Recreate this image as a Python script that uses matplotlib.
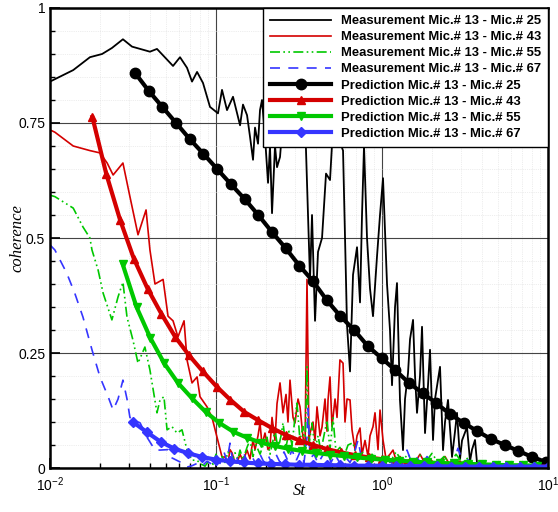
import matplotlib
matplotlib.use("Agg")
import matplotlib.pyplot as plt
from matplotlib.ticker import MultipleLocator, LogLocator, NullFormatter

plt.rcParams['font.family'] = ['Liberation Sans', 'DejaVu Sans']
plt.rcParams['mathtext.fontset'] = 'custom'
plt.rcParams['mathtext.rm'] = 'Liberation Sans'

# Measurement Mic.# 13 - Mic.# 25
st_m25 = [0.0100, 0.0138, 0.0174, 0.0206, 0.0236, 0.0275, 0.0312, 0.0400, 0.0441, 0.0551,
          0.0607, 0.0669, 0.0717, 0.0769, 0.0835, 0.0920, 0.1028, 0.1087, 0.1165, 0.1266,
          0.1396, 0.1454, 0.1538, 0.1603, 0.1671, 0.1718, 0.1791, 0.1841, 0.1893, 0.1973,
          0.2058, 0.2115, 0.2175, 0.2267, 0.2331, 0.2430, 0.2533, 0.2641, 0.2791, 0.2992,
          0.3206, 0.3437, 0.3684, 0.3788, 0.3949, 0.4117, 0.4352, 0.4600, 0.4862, 0.5139,
          0.5431, 0.5824, 0.6156, 0.6417, 0.6690, 0.7071, 0.7371, 0.7578, 0.7791, 0.8122,
          0.8467, 0.8826, 0.9330, 0.9727, 1.014, 1.072, 1.117, 1.149, 1.198, 1.231,
          1.283, 1.338, 1.376, 1.434, 1.475, 1.538, 1.581, 1.625, 1.694, 1.742,
          1.816, 1.893, 1.946, 2.029, 2.086, 2.236, 2.331, 2.396, 2.498, 2.641,
          2.754, 2.830, 2.951, 3.034, 3.251, 3.390, 3.485, 3.633, 3.735]
c_m25 = [0.840, 0.865, 0.893, 0.900, 0.913, 0.932, 0.916, 0.905, 0.911, 0.874,
         0.893, 0.870, 0.840, 0.861, 0.837, 0.785, 0.771, 0.822, 0.778, 0.807,
         0.745, 0.790, 0.767, 0.720, 0.670, 0.740, 0.705, 0.778, 0.800, 0.720,
         0.620, 0.700, 0.554, 0.700, 0.654, 0.676, 0.760, 0.720, 0.780, 0.740,
         0.790, 0.760, 0.410, 0.550, 0.320, 0.470, 0.500, 0.640, 0.626, 0.780,
         0.720, 0.690, 0.310, 0.210, 0.420, 0.480, 0.360, 0.550, 0.700, 0.500,
         0.390, 0.330, 0.460, 0.550, 0.630, 0.400, 0.300, 0.180, 0.350, 0.402,
         0.148, 0.039, 0.150, 0.206, 0.280, 0.322, 0.200, 0.120, 0.200, 0.307,
         0.076, 0.180, 0.257, 0.061, 0.150, 0.220, 0.039, 0.100, 0.148, 0.024,
         0.080, 0.120, 0.020, 0.060, 0.089, 0.015, 0.040, 0.061, 0.011]

# Measurement Mic.# 13 - Mic.# 43
st_m43 = [0.0100, 0.0107, 0.0138, 0.0174, 0.0200, 0.0221, 0.0240, 0.0275, 0.0303, 0.0339,
          0.0379, 0.0400, 0.0429, 0.0480, 0.0514, 0.0551, 0.0590, 0.0642, 0.0669, 0.0717,
          0.0769, 0.0801, 0.0883, 0.0946, 0.1014, 0.1087, 0.1133, 0.1181, 0.1214, 0.1249,
          0.1302, 0.1338, 0.1395, 0.1454, 0.1538, 0.1603, 0.1671, 0.1718, 0.1791, 0.1841,
          0.1893, 0.1973, 0.2058, 0.2115, 0.2175, 0.2267, 0.2331, 0.2430, 0.2533, 0.2641,
          0.2714, 0.2791, 0.2910, 0.2992, 0.3119, 0.3206, 0.3343, 0.3437, 0.3533, 0.3633,
          0.3684, 0.3840, 0.3949, 0.4059, 0.4232, 0.4352, 0.4537, 0.4664, 0.4730, 0.4862,
          0.4998, 0.5212, 0.5358, 0.5580, 0.5824, 0.5985, 0.6156, 0.6417, 0.6597, 0.6880,
          0.7071, 0.7371, 0.7578, 0.7900, 0.8235, 0.8467, 0.8826, 0.9074, 0.9461, 0.9727,
          1.014, 1.057, 1.117, 1.165, 1.231, 1.283, 1.376, 1.475, 1.581, 1.694,
          1.816, 1.946, 2.086, 2.236, 2.396, 2.568, 2.754, 2.951, 3.162, 3.390]
c_m43 = [0.735, 0.730, 0.700, 0.690, 0.685, 0.663, 0.637, 0.663, 0.590, 0.507,
         0.561, 0.474, 0.400, 0.410, 0.330, 0.320, 0.285, 0.320, 0.235, 0.185,
         0.198, 0.155, 0.133, 0.110, 0.067, 0.024, 0.024, 0.010, 0.040, 0.033,
         0.012, 0.011, 0.030, 0.015, 0.039, 0.020, 0.061, 0.040, 0.070, 0.098,
         0.050, 0.076, 0.040, 0.046, 0.110, 0.060, 0.140, 0.185, 0.120, 0.160,
         0.100, 0.191, 0.110, 0.098, 0.150, 0.133, 0.067, 0.040, 0.410, 0.060,
         0.076, 0.100, 0.060, 0.133, 0.070, 0.089, 0.150, 0.080, 0.148, 0.198,
         0.090, 0.150, 0.110, 0.235, 0.228, 0.100, 0.150, 0.148, 0.083, 0.040,
         0.070, 0.087, 0.030, 0.060, 0.025, 0.070, 0.090, 0.120, 0.040, 0.126,
         0.061, 0.020, 0.030, 0.039, 0.010, 0.025, 0.008, 0.020, 0.012, 0.030,
         0.010, 0.020, 0.008, 0.015, 0.025, 0.006, 0.012, 0.015, 0.005, 0.008]

# Measurement Mic.# 13 - Mic.# 55
st_m55 = [0.0100, 0.0107, 0.0138, 0.0158, 0.0174, 0.0179, 0.0195, 0.0209, 0.0236, 0.0257,
          0.0275, 0.0291, 0.0316, 0.0339, 0.0373, 0.0400, 0.0441, 0.0460, 0.0486, 0.0507,
          0.0543, 0.0582, 0.0624, 0.0669, 0.0717, 0.0769, 0.0801, 0.0859, 0.0920, 0.0959,
          0.1000, 0.1042, 0.1087, 0.1133, 0.1181, 0.1249, 0.1302, 0.1357, 0.1395, 0.1454,
          0.1538, 0.1603, 0.1671, 0.1742, 0.1841, 0.1946, 0.2029, 0.2115, 0.2205, 0.2267,
          0.2363, 0.2464, 0.2533, 0.2641, 0.2753, 0.2870, 0.2992, 0.3076, 0.3206, 0.3343,
          0.3437, 0.3533, 0.3633, 0.3788, 0.3949, 0.4117, 0.4291, 0.4412, 0.4664, 0.4862,
          0.5068, 0.5284, 0.5580, 0.5903, 0.6240, 0.6690, 0.7071, 0.7578, 0.8122, 0.8706,
          0.9461, 1.028, 1.117, 1.214, 1.320, 1.434, 1.559, 1.694, 1.841, 2.000,
          2.175, 2.363, 2.568, 2.791, 3.034, 3.296, 3.583, 3.894]
c_m55 = [0.593, 0.590, 0.565, 0.524, 0.500, 0.474, 0.430, 0.380, 0.322, 0.372,
         0.404, 0.328, 0.278, 0.228, 0.263, 0.213, 0.120, 0.148, 0.155, 0.083,
         0.090, 0.076, 0.083, 0.039, 0.017, 0.017, 0.010, 0.004, 0.020, 0.008,
         0.030, 0.010, 0.025, 0.012, 0.035, 0.015, 0.033, 0.020, 0.039, 0.018,
         0.045, 0.061, 0.025, 0.050, 0.030, 0.055, 0.067, 0.030, 0.060, 0.083,
         0.040, 0.070, 0.098, 0.045, 0.080, 0.050, 0.110, 0.141, 0.060, 0.090,
         0.040, 0.220, 0.050, 0.098, 0.040, 0.070, 0.035, 0.060, 0.104, 0.040,
         0.109, 0.035, 0.045, 0.025, 0.050, 0.055, 0.020, 0.035, 0.018, 0.030,
         0.015, 0.025, 0.012, 0.035, 0.015, 0.030, 0.012, 0.028, 0.014, 0.032,
         0.012, 0.025, 0.010, 0.030, 0.012, 0.022, 0.008, 0.004]

# Measurement Mic.# 13 - Mic.# 67
st_m67 = [0.0100, 0.0107, 0.0126, 0.0141, 0.0158, 0.0179, 0.0200, 0.0224, 0.0240, 0.0257,
          0.0275, 0.0291, 0.0303, 0.0349, 0.0384, 0.0429, 0.0460, 0.0514, 0.0543, 0.0624,
          0.0669, 0.0717, 0.0769, 0.0823, 0.0883, 0.0946, 0.1000, 0.1057, 0.1117, 0.1165,
          0.1214, 0.1266, 0.1320, 0.1395, 0.1475, 0.1559, 0.1648, 0.1742, 0.1841, 0.1946,
          0.2058, 0.2175, 0.2298, 0.2430, 0.2568, 0.2714, 0.2870, 0.3034, 0.3206, 0.3390,
          0.3533, 0.3583, 0.3684, 0.3894, 0.4117, 0.4352, 0.4664, 0.4929, 0.5212, 0.5580,
          0.5985, 0.6417, 0.6783, 0.7170, 0.7578, 0.8122, 0.8706, 0.9330, 1.000, 1.072,
          1.149, 1.231, 1.320, 1.414, 1.516, 1.625, 1.742, 1.867, 2.000, 2.145,
          2.300, 2.464, 2.641, 2.869, 3.080, 3.296, 3.533, 3.786, 4.003]
c_m67 = [0.485, 0.474, 0.424, 0.380, 0.328, 0.257, 0.198, 0.155, 0.126, 0.150,
         0.191, 0.150, 0.110, 0.098, 0.067, 0.039, 0.039, 0.040, 0.022, 0.011,
         0.002, 0.005, 0.010, 0.004, 0.015, 0.008, 0.020, 0.010, 0.035, 0.015,
         0.054, 0.012, 0.025, 0.008, 0.030, 0.012, 0.025, 0.008, 0.030, 0.012,
         0.028, 0.010, 0.030, 0.012, 0.035, 0.015, 0.040, 0.015, 0.035, 0.012,
         0.067, 0.130, 0.020, 0.030, 0.010, 0.025, 0.039, 0.012, 0.030, 0.010,
         0.025, 0.012, 0.030, 0.061, 0.015, 0.025, 0.010, 0.022, 0.008, 0.020,
         0.010, 0.025, 0.008, 0.039, 0.010, 0.022, 0.008, 0.025, 0.010, 0.018,
         0.008, 0.020, 0.006, 0.043, 0.010, 0.018, 0.006, 0.012, 0.002]

# Prediction Mic.# 13 - Mic.# 25
st_p25 = [0.0325, 0.0393, 0.0475, 0.0575, 0.0695, 0.0840, 0.1016, 0.1229, 0.1486, 0.1797,
          0.2173, 0.2627, 0.3177, 0.3842, 0.4645, 0.5617, 0.6792, 0.8213, 0.9931, 1.201,
          1.452, 1.756, 2.123, 2.568, 3.105, 3.754, 4.539, 5.489, 6.637, 8.026, 9.705]
c_p25 = [0.859, 0.820, 0.785, 0.750, 0.715, 0.683, 0.650, 0.617, 0.585, 0.550,
         0.513, 0.478, 0.440, 0.406, 0.365, 0.330, 0.300, 0.265, 0.239, 0.213,
         0.185, 0.163, 0.141, 0.117, 0.098, 0.080, 0.063, 0.050, 0.037, 0.024, 0.013]

# Prediction Mic.# 13 - Mic.# 43
st_p43 = [0.0180, 0.0218, 0.0264, 0.0320, 0.0387, 0.0469, 0.0568, 0.0688, 0.0833, 0.1009,
          0.1222, 0.1480, 0.1792, 0.2170, 0.2629, 0.3184, 0.3857, 0.4671, 0.5657, 0.6852,
          0.8299, 1.005, 1.217, 1.474, 1.786, 2.163, 2.619, 3.172, 3.842, 4.653,
          5.636, 6.826, 8.268, 10.00]
c_p43 = [0.763, 0.640, 0.540, 0.455, 0.390, 0.335, 0.285, 0.245, 0.210, 0.177,
         0.148, 0.122, 0.104, 0.087, 0.072, 0.060, 0.050, 0.041, 0.034, 0.028,
         0.023, 0.019, 0.016, 0.013, 0.011, 0.009, 0.008, 0.007, 0.006, 0.005,
         0.004, 0.004, 0.003, 0.003]

# Prediction Mic.# 13 - Mic.# 55
st_p55 = [0.0274, 0.0332, 0.0402, 0.0487, 0.0590, 0.0715, 0.0866, 0.1048, 0.1269, 0.1537,
          0.1862, 0.2255, 0.2731, 0.3308, 0.4006, 0.4853, 0.5877, 0.7118, 0.8621, 1.044,
          1.265, 1.532, 1.855, 2.247, 2.722, 3.296, 3.992, 4.835, 5.856, 7.092, 8.590]
c_p55 = [0.443, 0.350, 0.283, 0.228, 0.185, 0.152, 0.122, 0.098, 0.079, 0.066,
         0.055, 0.048, 0.042, 0.037, 0.033, 0.029, 0.026, 0.023, 0.020, 0.018,
         0.016, 0.014, 0.012, 0.011, 0.010, 0.009, 0.008, 0.007, 0.006, 0.006, 0.005]

# Prediction Mic.# 13 - Mic.# 67
st_p67 = [0.0316, 0.0383, 0.0464, 0.0562, 0.0681, 0.0825, 0.1000, 0.1210, 0.1470, 0.1780,
          0.2150, 0.2610, 0.3160, 0.3830, 0.4640, 0.5620, 0.6810, 0.8250, 1.000, 1.210,
          1.470, 1.780, 2.150, 2.610, 3.160, 3.830, 4.640, 5.620, 6.810, 8.250, 10.00]
c_p67 = [0.100, 0.078, 0.057, 0.042, 0.032, 0.024, 0.018, 0.015, 0.012, 0.010,
         0.009, 0.008, 0.007, 0.007, 0.006, 0.006, 0.005, 0.005, 0.005, 0.004,
         0.004, 0.004, 0.004, 0.003, 0.003, 0.003, 0.003, 0.003, 0.003, 0.003, 0.003]

labels = ['Measurement Mic.# 13 - Mic.# 25', 'Measurement Mic.# 13 - Mic.# 43',
          'Measurement Mic.# 13 - Mic.# 55', 'Measurement Mic.# 13 - Mic.# 67',
          'Prediction Mic.# 13 - Mic.# 25', 'Prediction Mic.# 13 - Mic.# 43',
          'Prediction Mic.# 13 - Mic.# 55', 'Prediction Mic.# 13 - Mic.# 67']

RED = '#d40000'
GREEN = '#00c800'
BLUE = '#3535ff'

fig = plt.figure(figsize=(5.58, 5.12), dpi=100)
ax = fig.add_axes([0.0896, 0.0859, 0.8925, 0.8985])

# measurements
ax.plot(st_m25, c_m25, '-', color='k', lw=1.3, label=labels[0])
ax.plot(st_m43, c_m43, '-', color=RED, lw=1.2, label=labels[1])
ax.plot(st_m55, c_m55, color=GREEN, lw=1.2, ls=(0, (6, 2, 1, 2, 1, 2)), label=labels[2])
ax.plot(st_m67, c_m67, color=BLUE, lw=1.2, ls=(0, (6, 5)), label=labels[3])

# predictions
ax.plot(st_p25, c_p25, '-', color='k', lw=3, marker='o', ms=7.5, label=labels[4])
ax.plot(st_p43, c_p43, '-', color=RED, lw=3, marker='^', ms=6, label=labels[5])
ax.plot(st_p55, c_p55, '-', color=GREEN, lw=3, marker='v', ms=6, label=labels[6])
ax.plot(st_p67, c_p67, '-', color=BLUE, lw=3, marker='D', ms=5.5, label=labels[7])

ax.set_xscale('log')
ax.set_xlim(0.01, 10)
ax.set_ylim(0, 1)

ax.set_yticks([0, 0.25, 0.5, 0.75, 1])
ax.set_yticklabels(['0', '0.25', '0.5', '0.75', '1'])
ax.yaxis.set_minor_locator(MultipleLocator(0.05))
ax.xaxis.set_minor_locator(LogLocator(base=10, subs=range(2, 10)))
ax.xaxis.set_minor_formatter(NullFormatter())

ax.tick_params(which='major', direction='in', length=7, width=1.2, labelsize=10)
ax.tick_params(axis='x', which='major', pad=5)
ax.tick_params(which='minor', direction='in', length=3.5, width=1.0)

ax.set_axisbelow(True)
ax.grid(True, which='major', color='#444444', lw=0.8)
ax.grid(True, which='minor', color='#dddddd', lw=0.5, ls=':')

for sp in ax.spines.values():
    sp.set_linewidth(1.8)

ax.set_xlabel('St', family=['Liberation Serif'], style='italic', fontsize=12)
ax.set_ylabel('coherence', family=['Liberation Serif'], style='italic', fontsize=12)
ax.xaxis.set_label_coords(0.5, -0.032)
ax.yaxis.set_label_coords(-0.05, 0.5)

leg = ax.legend(loc='upper right', borderaxespad=0, numpoints=1,
                prop={'weight': 'bold', 'size': 9.4}, handlelength=4.6,
                handletextpad=0.77, labelspacing=0.3, borderpad=0.55,
                fancybox=False, framealpha=1, edgecolor='k')
leg.get_frame().set_linewidth(1.0)

fig.savefig('out.png', dpi=100)
